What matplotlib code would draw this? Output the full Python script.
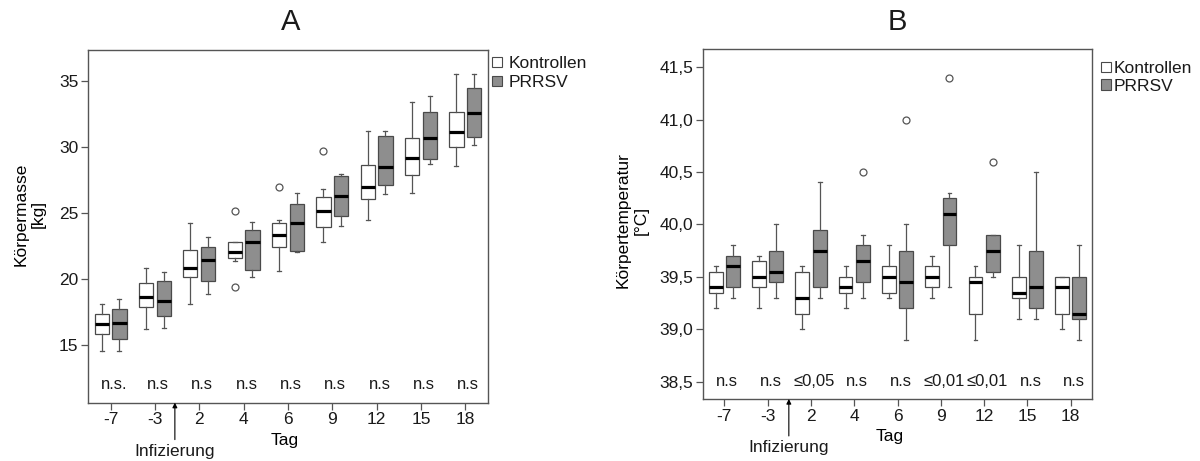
import matplotlib
matplotlib.use("Agg")
import matplotlib.pyplot as plt
from matplotlib.patches import Patch

plt.rcParams['font.family'] = ['Liberation Sans', 'DejaVu Sans']
plt.rcParams['text.color'] = '#1a1a1a'

# ---- data -------------------------------------------------------------
days = ["-7", "-3", "2", "4", "6", "9", "12", "15", "18"]

# body mass [kg]
kg_ctrl_whislo = [14.55, 16.20, 18.14, 21.34, 20.58, 22.77, 24.44, 26.53, 28.52]
kg_ctrl_q1     = [15.85, 17.86, 20.13, 21.56, 22.45, 23.91, 26.03, 27.84, 29.98]
kg_ctrl_med    = [16.58, 18.67, 20.81, 22.04, 23.30, 25.12, 26.93, 29.18, 31.14]
kg_ctrl_q3     = [17.34, 19.72, 22.24, 22.77, 24.21, 26.23, 28.65, 30.64, 32.61]
kg_ctrl_whishi = [18.14, 20.81, 24.24, 22.77, 24.44, 26.81, 31.19, 33.36, 35.48]
kg_ctrl_fliers = [[], [], [], [25.12, 19.42], [26.96], [29.66], [], [], []]

kg_prrsv_whislo = [14.55, 16.28, 18.84, 20.18, 22.02, 24.01, 26.43, 28.70, 30.11]
kg_prrsv_q1     = [15.45, 17.21, 19.88, 20.66, 22.10, 24.74, 27.08, 29.10, 30.74]
kg_prrsv_med    = [16.71, 18.37, 21.46, 22.82, 24.24, 26.30, 28.50, 30.64, 32.55]
kg_prrsv_q3     = [17.71, 19.88, 22.42, 23.68, 25.70, 27.77, 30.84, 32.61, 34.47]
kg_prrsv_whishi = [18.47, 20.51, 23.20, 24.34, 26.50, 27.97, 31.19, 33.82, 35.53]
kg_prrsv_fliers = [[], [], [], [], [], [], [], [], []]

kg_sig = ["n.s.", "n.s", "n.s", "n.s", "n.s", "n.s", "n.s", "n.s", "n.s"]
kg_yticks = [15, 20, 25, 30, 35]
kg_yticklabels = ["15", "20", "25", "30", "35"]

# body temperature [°C]
t_ctrl_whislo = [39.20, 39.20, 39.00, 39.20, 39.30, 39.30, 38.90, 39.10, 39.00]
t_ctrl_q1     = [39.35, 39.40, 39.15, 39.35, 39.35, 39.40, 39.15, 39.30, 39.15]
t_ctrl_med    = [39.40, 39.50, 39.30, 39.40, 39.50, 39.50, 39.45, 39.35, 39.40]
t_ctrl_q3     = [39.55, 39.65, 39.55, 39.50, 39.60, 39.60, 39.50, 39.50, 39.50]
t_ctrl_whishi = [39.60, 39.70, 39.60, 39.60, 39.80, 39.70, 39.60, 39.80, 39.50]
t_ctrl_fliers = [[], [], [], [], [], [], [], [], []]

t_prrsv_whislo = [39.30, 39.30, 39.30, 39.30, 38.90, 39.40, 39.50, 39.10, 38.90]
t_prrsv_q1     = [39.40, 39.45, 39.40, 39.45, 39.20, 39.80, 39.55, 39.20, 39.10]
t_prrsv_med    = [39.60, 39.55, 39.75, 39.65, 39.45, 40.10, 39.75, 39.40, 39.15]
t_prrsv_q3     = [39.70, 39.75, 39.95, 39.80, 39.75, 40.25, 39.90, 39.75, 39.50]
t_prrsv_whishi = [39.80, 40.00, 40.40, 39.90, 40.00, 40.30, 39.90, 40.50, 39.80]
t_prrsv_fliers = [[], [], [], [40.5], [41.0], [41.4], [40.6], [], []]

t_sig = ["n.s", "n.s", "\u22640,05", "n.s", "n.s", "\u22640,01", "\u22640,01", "n.s", "n.s"]
t_yticks = [38.5, 39.0, 39.5, 40.0, 40.5, 41.0, 41.5]
t_yticklabels = ["38,5", "39,0", "39,5", "40,0", "40,5", "41,0", "41,5"]

groups = ["Kontrollen", "PRRSV"]

# ---- styling ----------------------------------------------------------
FILL = {"Kontrollen": "white", "PRRSV": "#8e8e8e"}
EDGE = "#4a4a4a"
FS = 12.5
FS_SIG = 12


def make_stats(whislo, q1, med, q3, whishi, fliers):
    return [dict(whislo=a, q1=b, med=c, q3=d, whishi=e, fliers=f)
            for a, b, c, d, e, f in zip(whislo, q1, med, q3, whishi, fliers)]


def draw_panel(ax, ctrl, prrsv, sig, sig_y, yticks, yticklabels, xlim, ylim, arrow_x):
    n = len(days)
    for stats, off, name in ((ctrl, -0.2, "Kontrollen"), (prrsv, 0.2, "PRRSV")):
        ax.bxp(stats, positions=[i + off for i in range(n)], widths=0.32,
               patch_artist=True, manage_ticks=False, capwidths=0.09,
               boxprops=dict(facecolor=FILL[name], edgecolor=EDGE, linewidth=0.9),
               medianprops=dict(color="black", linewidth=2.3, solid_capstyle="butt"),
               whiskerprops=dict(color="#555555", linewidth=0.9),
               capprops=dict(color="#555555", linewidth=0.9),
               flierprops=dict(marker="o", markerfacecolor="none",
                               markeredgecolor="#555555", markersize=5,
                               markeredgewidth=0.9))
    for i, s in enumerate(sig):
        ax.text(i + 0.07, sig_y, s, ha="center", va="center", fontsize=FS_SIG)

    ax.set_xlim(*xlim)
    ax.set_ylim(*ylim)
    ax.set_xticks(range(n))
    ax.set_xticklabels(days)
    ax.set_yticks(yticks)
    ax.set_yticklabels(yticklabels)
    ax.tick_params(axis="both", direction="out", length=5, width=0.9,
                   color="#555555", labelsize=FS, labelcolor="#1a1a1a", pad=2)
    for sp in ax.spines.values():
        sp.set_color("#555555")
        sp.set_linewidth(1.0)

    # time of infection, marked below the day axis
    ax.annotate("Infizierung", xy=(arrow_x, 0),
                xycoords=ax.get_xaxis_transform(),
                xytext=(0, -35), textcoords="offset points",
                ha="center", va="center", fontsize=FS,
                arrowprops=dict(arrowstyle="-|>", color="black", lw=0.8,
                                mutation_scale=7, shrinkA=1, shrinkB=0))


fig = plt.figure(figsize=(12, 4.61), dpi=100)

# panel A: body mass
axA = fig.add_axes([0.0733, 0.1265, 0.3333, 0.765])
draw_panel(axA,
           make_stats(kg_ctrl_whislo, kg_ctrl_q1, kg_ctrl_med, kg_ctrl_q3, kg_ctrl_whishi, kg_ctrl_fliers),
           make_stats(kg_prrsv_whislo, kg_prrsv_q1, kg_prrsv_med, kg_prrsv_q3, kg_prrsv_whishi, kg_prrsv_fliers),
           kg_sig, 12.0, kg_yticks, kg_yticklabels, (-0.51, 8.51), (10.66, 37.32), 1.45)
axA.set_xlabel("Tag", fontsize=FS)
axA.xaxis.label.set_va("center")
axA.xaxis.set_label_coords(0.4925, -0.106)
axA.set_ylabel("K\u00f6rpermasse\n[kg]", fontsize=FS)
axA.yaxis.label.set_va("center")
axA.yaxis.set_label_coords(-0.145, 0.534)

# panel B: body temperature
axB = fig.add_axes([0.5861, 0.1345, 0.3242, 0.7585])
draw_panel(axB,
           make_stats(t_ctrl_whislo, t_ctrl_q1, t_ctrl_med, t_ctrl_q3, t_ctrl_whishi, t_ctrl_fliers),
           make_stats(t_prrsv_whislo, t_prrsv_q1, t_prrsv_med, t_prrsv_q3, t_prrsv_whishi, t_prrsv_fliers),
           t_sig, 38.5, t_yticks, t_yticklabels, (-0.485, 8.5), (38.335, 41.67), 1.49)
axB.set_xlabel("Tag", fontsize=FS)
axB.xaxis.label.set_va("center")
axB.xaxis.set_label_coords(0.48, -0.108)
axB.set_ylabel("K\u00f6rpertemperatur\n[\u00b0C]", fontsize=FS)
axB.yaxis.label.set_va("center")
axB.yaxis.set_label_coords(-0.183, 0.512)

fig.text(291 / 1200, 1 - 22.5 / 461, "A", ha="center", va="center", fontsize=21)
fig.text(897 / 1200, 1 - 22.5 / 461, "B", ha="center", va="center", fontsize=21)

handles = [Patch(facecolor=FILL[g], edgecolor=EDGE, linewidth=0.8) for g in groups]
fig.legend(handles, groups, loc="upper left", bbox_to_anchor=(492 / 1200, 1 - 56 / 461),
           frameon=False, fontsize=FS, borderaxespad=0, borderpad=0,
           handlelength=0.55, handleheight=0.55, handletextpad=0.4, labelspacing=0.25)
fig.legend(handles, groups, loc="upper left", bbox_to_anchor=(1101 / 1200, 1 - 61 / 461),
           frameon=False, fontsize=FS, borderaxespad=0, borderpad=0,
           handlelength=0.55, handleheight=0.55, handletextpad=0.15, labelspacing=0.15)

fig.savefig("out.png", dpi=100)
